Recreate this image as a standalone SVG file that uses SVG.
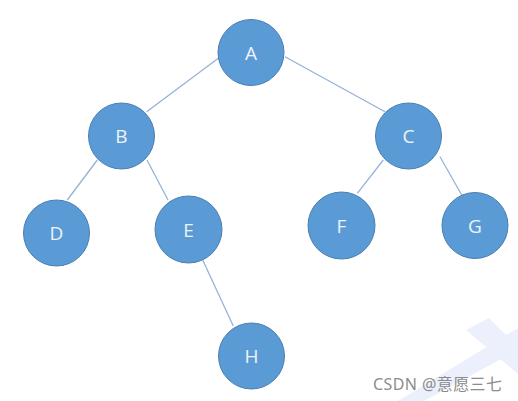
<svg xmlns="http://www.w3.org/2000/svg" width="518" height="401" viewBox="0 0 518 401">
<style>
.n circle{fill:#5B9BD5;stroke:#4A7EB0;stroke-width:1}
.n text{fill:#EEF3FB;font-family:"Open Sans","Noto Sans",sans-serif;font-size:19px;text-anchor:middle;dominant-baseline:central}
.e line{stroke:#97B2D9;stroke-width:1.3}
</style>
<rect width="518" height="401" fill="#FFFFFF"/>
<g id="watermark-shape" fill="#EBF0FC">
<polygon points="466,330 489,318 518,347 518,374"/>
<polygon points="398,401 424,401 518,350 518,328"/>
</g>
<g id="connectors" class="e">
<line x1="218.3" y1="58.3" x2="146.7" y2="111.7"/>
<line x1="285" y1="56.7" x2="385" y2="111.7"/>
<line x1="97.3" y1="160" x2="67.3" y2="200"/>
<line x1="147" y1="160" x2="168" y2="200"/>
<line x1="202.7" y1="260" x2="233.3" y2="326"/>
<line x1="383.3" y1="160" x2="357.3" y2="193.3"/>
<line x1="440" y1="156.7" x2="461.7" y2="195"/>
</g>
<g id="node-A" class="n"><circle cx="251" cy="52.5" r="33"/><text x="251" y="53">A</text></g>
<g id="node-B" class="n"><circle cx="121.5" cy="136" r="33"/><text x="121.5" y="136">B</text></g>
<g id="node-C" class="n"><circle cx="408.5" cy="136" r="33"/><text x="408.5" y="136">C</text></g>
<g id="node-D" class="n"><circle cx="56.5" cy="233" r="33"/><text x="56.5" y="233">D</text></g>
<g id="node-E" class="n"><circle cx="188.5" cy="229.5" r="33.5"/><text x="188.5" y="229.5">E</text></g>
<g id="node-F" class="n"><circle cx="341.5" cy="225.5" r="33.5"/><text x="341.5" y="225.5">F</text></g>
<g id="node-G" class="n"><circle cx="475" cy="225.5" r="33"/><text x="475" y="225.5">G</text></g>
<g id="node-H" class="n"><circle cx="251.5" cy="356" r="33"/><text x="251.5" y="356">H</text></g>
<text x="373" y="390" font-family="'Noto Sans','Noto Sans CJK SC',sans-serif" font-size="16" fill="#8C8C8C" textLength="129">CSDN @意愿三七</text>
</svg>
